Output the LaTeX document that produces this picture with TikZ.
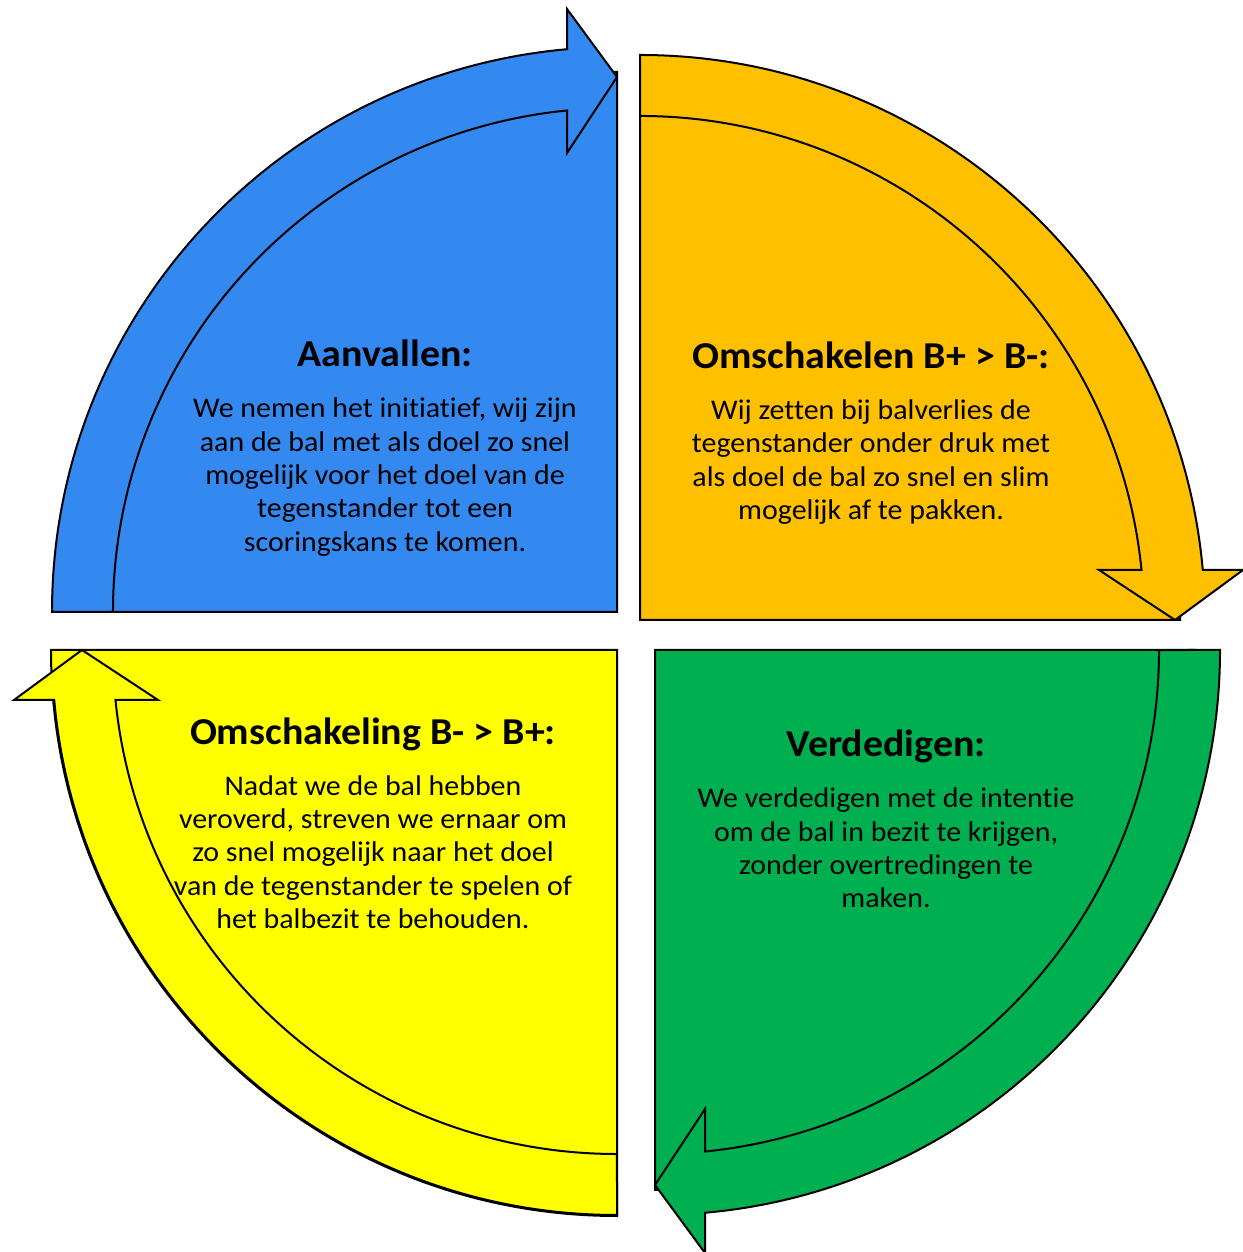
\documentclass[tikz,border=0pt]{standalone}
\usepackage{fontspec}
\setmainfont{Carlito}[Ligatures=NoCommon,FakeStretch=1.05]
\definecolor{qblue}{RGB}{51,137,240}
\definecolor{qorange}{RGB}{255,192,0}
\definecolor{qgreen}{RGB}{0,176,80}
\definecolor{qyellow}{RGB}{255,255,0}
\newcommand{\qsector}[4]{%
  \path[outline,fill=#3,shift={#1},rotate=#2]
    (0,0) -- (180:#4) arc[start angle=180,end angle=90,radius=#4] -- cycle;}
\newcommand{\qarrow}[3]{%
  \path[outline,fill=#3,shift={#1},rotate=#2]
    (180:565) arc[start angle=180,end angle=95.077,radius=565]
    -- (-50,603) -- (0,535) -- (-50,459) -- (-50,501.51)
    arc[start angle=95.693,end angle=180,radius=504] -- cycle;}
\begin{document}
\begin{tikzpicture}[x=1pt,y=1pt,
  outline/.style={draw=black,line width=2pt,line join=miter},
  ttl/.style={font=\fontsize{38}{45}\selectfont\bfseries,align=center,inner sep=0pt},
  body/.style={font=\fontsize{28.5}{33.3}\selectfont,align=center,inner sep=0pt}]
\useasboundingbox (0,0) rectangle (1242,1252);
% blue
\qsector{(617,640)}{0}{qblue}{540}
\qarrow{(617,640)}{0}{qblue}
% orange
\qsector{(640,632)}{-90}{qorange}{540}
\qarrow{(640,632)}{-90}{qorange}
% green
\qsector{(655,602)}{180}{qgreen}{540}
\qarrow{(655,602)}{180}{qgreen}
% yellow
\qsector{(617,602)}{90}{qyellow}{566}
\qarrow{(617,602)}{90}{qyellow}
% texts
\node[ttl] (t1) at (385,899) {Aanvallen:};
\node[body] (b1) at (385,775) {We nemen het initiatief, wij zijn\\aan de bal met als doel zo snel\\mogelijk voor het doel van de\\tegenstander tot een\\scoringskans te komen.};
\node[ttl] (t2) at (871,897) {Omschakelen B+ > B-:};
\node[body] (b2) at (871,790) {Wij zetten bij balverlies de\\tegenstander onder druk met\\als doel de bal zo snel en slim\\mogelijk af te pakken.};
\node[ttl] (t3) at (373,518) {Omschakeling B- > B+:};
\node[body] (b3) at (373,400) {Nadat we de bal hebben\\veroverd, streven we ernaar om\\zo snel mogelijk naar het doel\\van de tegenstander te spelen of\\het balbezit te behouden.};
\node[ttl] (t4) at (886,506) {Verdedigen:};
\node[body] (b4) at (886,404) {We verdedigen met de intentie\\om de bal in bezit te krijgen,\\zonder overtredingen te\\maken.};
\end{tikzpicture}
\end{document}
